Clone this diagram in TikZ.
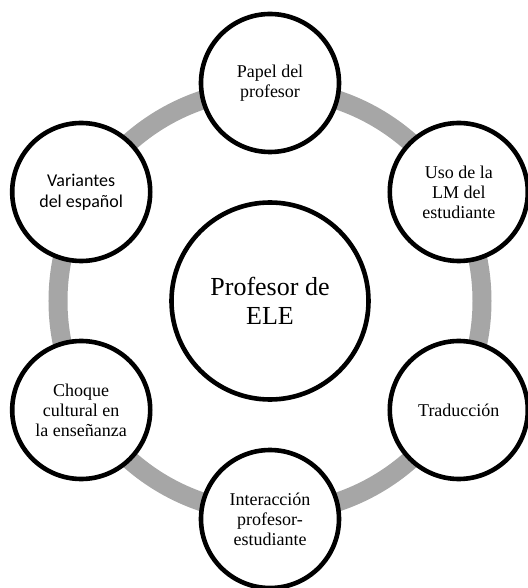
\documentclass[tikz,border=0pt]{standalone}
\usepackage{fontspec}
\setmainfont{Liberation Serif}
\newfontfamily\calibrifont{Carlito}
\usetikzlibrary{backgrounds}
\definecolor{ringgray}{HTML}{A6A6A6}
\definecolor{darkline}{HTML}{000000}
\tikzset{
  topic/.style={circle, draw=darkline, fill=white, line width=4.6pt,
                minimum size=138pt, inner sep=0pt, align=center,
                font=\fontsize{18}{20}\selectfont},
  hub/.style={topic, minimum size=197pt, font=\fontsize{26}{29}\selectfont},
  ring/.style={draw=ringgray, line width=19pt},
}
\def\orbit{218pt}
\def\ringrad{212pt}

\begin{document}
\begin{tikzpicture}
\useasboundingbox (-270pt,-287pt) rectangle (257pt,301pt);

% Hub
\node[hub] (ele) at (0,0) {Profesor de\\ELE};

% Topics round the hub
\node[topic] (papel)     at (90:\orbit)  {Papel del\\profesor};
\node[topic] (lengua)    at (30:\orbit)  {Uso de la\\LM del\\estudiante};
\node[topic] (traduc)    at (-30:\orbit) {Traducción};
\node[topic] (interac)   at (-90:\orbit) {Interacción\\profesor-\\estudiante};
\node[topic] (choque)    at (210:\orbit) {Choque\\cultural en\\la enseñanza};
\node[topic, font=\calibrifont\fontsize{18}{21}\selectfont]
             (variantes) at (150:\orbit) {Variantes\\del español};

% Gray ring behind the topics
\begin{scope}[on background layer]
  \draw[ring] (ele.center) circle (\ringrad);
\end{scope}

\end{tikzpicture}
\end{document}
